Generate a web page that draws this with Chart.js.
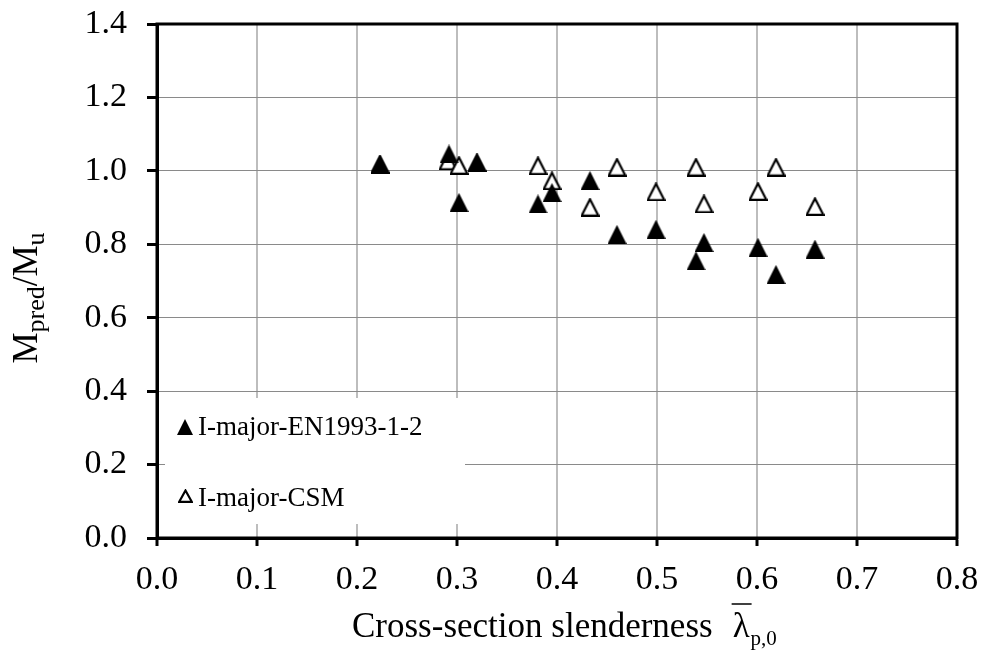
<!DOCTYPE html>
<html>
<head>
<meta charset="utf-8">
<script src="https://cdn.jsdelivr.net/npm/chart.js@4.4.0/dist/chart.umd.min.js"></script>
<style>
  html, body { margin: 0; padding: 0; background: #fff; }
  #wrap { width: 982px; height: 654px; }
</style>
</head>
<body>
<div id="wrap"><canvas id="chart" width="982" height="654"></canvas></div>
<script>
// ---- data ----
const enLabel = 'I-major-EN1993-1-2';
const enX = [0.223, 0.292, 0.302, 0.320, 0.381, 0.395, 0.433, 0.460, 0.499, 0.539, 0.547, 0.601, 0.619, 0.658];
const enY = [1.018, 1.046, 0.914, 1.022, 0.910, 0.941, 0.974, 0.827, 0.841, 0.755, 0.805, 0.792, 0.718, 0.787];

const csmLabel = 'I-major-CSM';
const csmX = [0.223, 0.291, 0.302, 0.320, 0.381, 0.395, 0.433, 0.460, 0.499, 0.539, 0.547, 0.601, 0.619, 0.658];
const csmY = [1.018, 1.027, 1.015, 1.022, 1.014, 0.973, 0.901, 1.010, 0.943, 1.010, 0.910, 0.944, 1.010, 0.903];

const xTicks = [0.0, 0.1, 0.2, 0.3, 0.4, 0.5, 0.6, 0.7, 0.8];
const yTicks = [0.0, 0.2, 0.4, 0.6, 0.8, 1.0, 1.2, 1.4];

const serif = '"Liberation Serif", "Times New Roman", serif';

// triangle markers like the excel ones (isosceles, centred on the box)
function makeTriangle(w, h, filled) {
    const c = document.createElement('canvas');
    c.width = w; c.height = h;
    const g = c.getContext('2d');
    g.beginPath();
    if (filled) {
        g.moveTo(w / 2, 0);
        g.lineTo(w, h);
        g.lineTo(0, h);
        g.closePath();
        g.fillStyle = '#000';
        g.fill();
    } else {
        g.moveTo(w / 2, 1.5);
        g.lineTo(w - 1.2, h - 1.2);
        g.lineTo(1.2, h - 1.2);
        g.closePath();
        g.fillStyle = '#fff';
        g.fill();
        g.lineWidth = 2.2;
        g.strokeStyle = '#000';
        g.stroke();
    }
    return c;
}
const filledTri = makeTriangle(19, 19, true);
const openTri = makeTriangle(19, 19, false);
const legFilled = makeTriangle(16, 16, true);
const legOpen = makeTriangle(15, 14, false);

const toPoints = (xs, ys) => xs.map((x, i) => ({ x: x, y: ys[i] }));

// frame, axis titles and the in-plot legend
const decorPlugin = {
    id: 'decor',
    beforeDatasetsDraw(chart) {
        const { ctx, chartArea: a } = chart;
        ctx.save();
        // legend box (white, covers grid)
        ctx.fillStyle = '#fff';
        ctx.fillRect(a.left + 8, 398, 300, 126);
        ctx.restore();
    },
    afterDatasetsDraw(chart) {
        const { ctx, chartArea: a } = chart;
        ctx.save();
        ctx.strokeStyle = '#000';
        ctx.lineWidth = 3;
        ctx.strokeRect(a.left, a.top, a.right - a.left, a.bottom - a.top);

        // legend
        ctx.fillStyle = '#000';
        ctx.textBaseline = 'alphabetic';
        ctx.textAlign = 'left';
        ctx.font = '27px ' + serif;
        ctx.drawImage(legFilled, 177, 419);
        ctx.fillText(enLabel, 198, 435);
        ctx.drawImage(legOpen, 178, 489);
        ctx.fillText(csmLabel, 198, 506);

        // x title
        ctx.font = '35px ' + serif;
        const t1 = 'Cross-section slenderness';
        const lam = '\u03bb';
        const sub = 'p,0';
        const w1 = ctx.measureText(t1).width;
        const gap = 20;
        const wl = ctx.measureText(lam).width;
        ctx.font = '21px ' + serif;
        const ws = ctx.measureText(sub).width;
        let x0 = 352;
        const base = 637;
        ctx.font = '35px ' + serif;
        ctx.fillText(t1, x0, base);
        const lx = x0 + w1 + gap;
        ctx.fillText(lam, lx, base);
        ctx.lineWidth = 1.5;
        ctx.beginPath();
        ctx.moveTo(lx - 1, base - 33);
        ctx.lineTo(lx + wl + 2, base - 33);
        ctx.stroke();
        ctx.font = '21px ' + serif;
        ctx.fillText(sub, lx + wl + 1, base + 8);

        // y title
        ctx.translate(25, 298);
        ctx.rotate(-Math.PI / 2);
        const parts = [['M', 35, 0], ['pred', 26, 7], ['/M', 35, 0], ['u', 26, 7]];
        let total = 0;
        parts.forEach(p => { ctx.font = p[1] + 'px ' + serif; total += ctx.measureText(p[0]).width; });
        let px = -total / 2;
        parts.forEach(p => {
            ctx.font = p[1] + 'px ' + serif;
            ctx.fillText(p[0], px, 12 + p[2]);
            px += ctx.measureText(p[0]).width;
        });
        ctx.restore();
    }
};

new Chart(document.getElementById('chart'), {
    type: 'scatter',
    data: {
        datasets: [
            {
                label: enLabel,
                data: toPoints(enX, enY),
                pointStyle: filledTri,
                pointRadius: 9,
                pointHoverRadius: 9
            },
            {
                label: csmLabel,
                data: toPoints(csmX, csmY),
                pointStyle: openTri,
                pointRadius: 9,
                pointHoverRadius: 9
            }
        ]
    },
    options: {
        responsive: false,
        animation: false,
        devicePixelRatio: 1,
        layout: { padding: { top: 24, right: 25, left: 0, bottom: 0 } },
        plugins: {
            legend: { display: false },
            tooltip: { enabled: false }
        },
        scales: {
            x: {
                type: 'linear',
                min: 0,
                max: 0.8,
                afterBuildTicks: s => { s.ticks = xTicks.map(v => ({ value: v })); },
                afterFit: s => {
                    s.height = 116;
                    s.paddingLeft = 0; s.paddingRight = 0;
                },
                ticks: {
                    callback: v => v.toFixed(1),
                    color: '#000',
                    font: { family: serif, size: 34 },
                    padding: 14,
                    maxRotation: 0
                },
                grid: {
                    color: '#bdbdbd',
                    lineWidth: 2,
                    tickColor: '#000',
                    tickLength: 8,
                    tickWidth: 3
                },
                border: { color: '#000', width: 3 }
            },
            y: {
                min: 0,
                max: 1.4,
                afterBuildTicks: s => { s.ticks = yTicks.map(v => ({ value: v })); },
                afterFit: s => {
                    s.width = 157;
                    s.paddingTop = 0; s.paddingBottom = 0;
                },
                ticks: {
                    callback: v => v.toFixed(1),
                    color: '#000',
                    font: { family: serif, size: 34 },
                    padding: 20
                },
                grid: {
                    color: '#8a8a8a',
                    lineWidth: 1,
                    tickColor: '#000',
                    tickLength: 10,
                    tickWidth: 3
                },
                border: { color: '#000', width: 3 }
            }
        }
    },
    plugins: [decorPlugin]
});
</script>
</body>
</html>
